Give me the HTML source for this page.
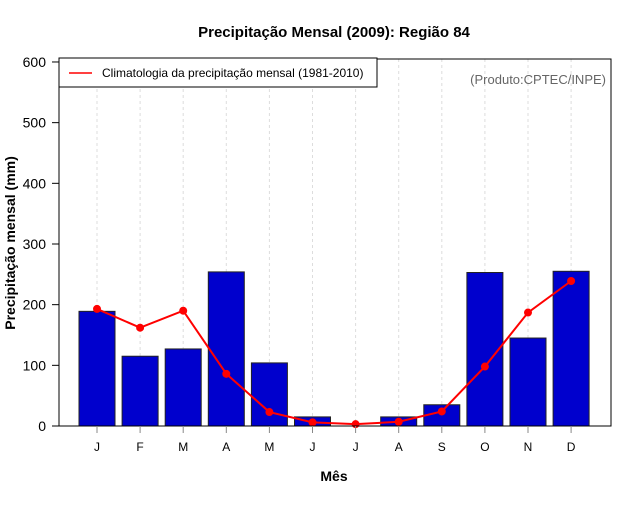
<!DOCTYPE html>
<html><head><meta charset="utf-8"><style>
body{margin:0;background:#fff;font-family:"Liberation Sans",sans-serif}
</style></head><body>
<svg width="640" height="500" xmlns="http://www.w3.org/2000/svg" font-family="Liberation Sans, sans-serif">
<rect width="640" height="500" fill="#fff"/>
<text x="334" y="37" text-anchor="middle" font-size="15" font-weight="bold">Precipitação Mensal (2009): Região 84</text>
<g id="grid"></g>
<g id="bars"></g>
<g id="line"></g>
<rect x="59" y="59" width="552" height="367" fill="none" stroke="#000"/>
<g id="yaxis"></g>
<g id="xaxis"></g>
<text x="334" y="481" text-anchor="middle" font-size="14" font-weight="bold">Mês</text>
<text transform="translate(15,243) rotate(-90)" text-anchor="middle" font-size="14" font-weight="bold">Precipitação mensal (mm)</text>
<text x="606" y="84" text-anchor="end" font-size="13" fill="#666">(Produto:CPTEC/INPE)</text>
<g>
<rect x="59" y="58" width="318" height="29" fill="#fff" stroke="#000"/>
<line x1="69" y1="73" x2="92" y2="73" stroke="red" stroke-width="1.5"/>
<text x="102" y="77" font-size="12">Climatologia da precipitação mensal (1981-2010)</text>
</g>
</svg>
<script>
const months=["J","F","M","A","M","J","J","A","S","O","N","D"];
const precip=[189,115,127,254,104,15,0,15,35,253,145,255];
const clim=[193,162,190,86,23,6,3,7,24,98,187,239];
const yTicks=[0,100,200,300,400,500,600];
const NS="http://www.w3.org/2000/svg";
const x=i=>97+i*43.1;
const y=v=>426-v*0.6067;
function mk(t,a,p){const e=document.createElementNS(NS,t);for(const k in a)e.setAttribute(k,a[k]);p.appendChild(e);return e;}
const g=document.getElementById('grid'),b=document.getElementById('bars'),l=document.getElementById('line'),ya=document.getElementById('yaxis'),xa=document.getElementById('xaxis');
months.forEach((m,i)=>{
 const gl=mk('line',{x1:x(i),x2:x(i),y1:59,y2:426,stroke:'#ddd','stroke-dasharray':'3,3'},g);
 
 
 const r=mk('rect',{x:x(i)-18,y:y(precip[i]),width:36,height:precip[i]*0.6067,fill:'#0000cd',stroke:'#222'},b);
 
 
 const tk=mk('line',{x1:x(i),x2:x(i),y1:426,y2:433,stroke:'#888'},xa);
 
 
 const t=mk('text',{x:x(i),y:451,'text-anchor':'middle','font-size':12},xa);t.textContent=m;
 
 
});
const pl=mk('polyline',{points:clim.map((v,i)=>x(i)+','+y(v)).join(' '),fill:'none',stroke:'red','stroke-width':2},l);


clim.forEach((v,i)=>{const c=mk('circle',{cx:x(i),cy:y(v),r:4,fill:'red'},l);
 
 });
yTicks.forEach(v=>{
 const tk=mk('line',{x1:52,x2:59,y1:y(v),y2:y(v),stroke:'#000'},ya);
 
 
 const t=mk('text',{x:46,y:y(v)+5,'text-anchor':'end','font-size':14},ya);t.textContent=v;
 
 
});
</script>
</body></html>
